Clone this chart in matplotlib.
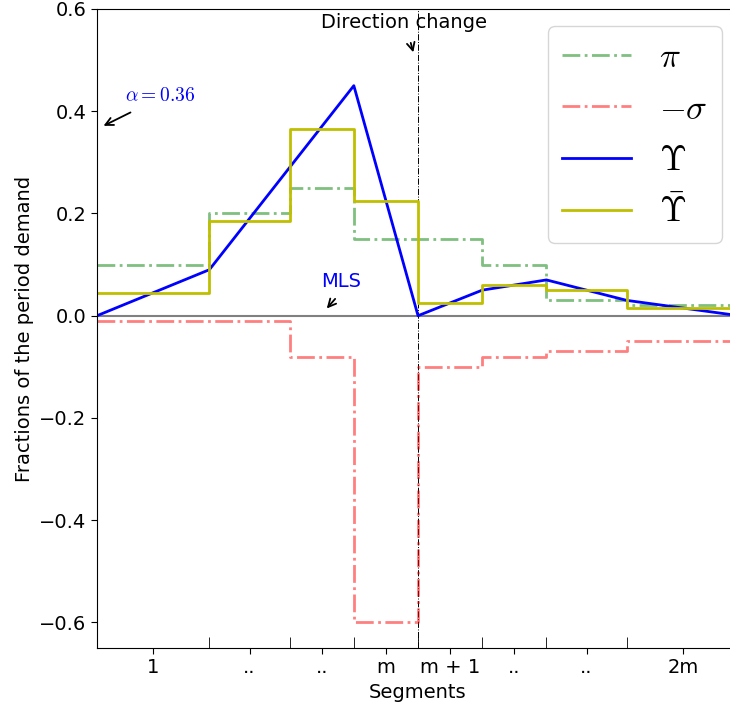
import matplotlib
matplotlib.use("Agg")
import matplotlib.pyplot as plt
import numpy as np

plt.rcParams["mathtext.fontset"] = "cm"
plt.rcParams["font.size"] = 14

# segment boundaries (time units) and per-segment values
edges = [0, 7, 12, 16, 20, 24, 28, 33, 40]
seg_labels = ["1", "..", "..", "m", "m + 1", "..", "..", "2m"]
pi_vals = [0.10, 0.20, 0.25, 0.15, 0.15, 0.10, 0.03, 0.02]
sigma_vals = [-0.01, -0.01, -0.08, -0.60, -0.10, -0.08, -0.07, -0.05]
ups_vals = [0.0, 0.09, 0.29, 0.45, 0.0, 0.05, 0.07, 0.03, 0.0]
ups_bar_vals = [0.045, 0.185, 0.365, 0.225, 0.025, 0.06, 0.05, 0.015]
direction_change = 20


def stepped(vals):
    return np.append(vals, vals[-1])


fig = plt.figure(figsize=(7.30, 7.13), dpi=100)
ax = fig.add_axes([0.1329, 0.0912, 0.8795, 0.8962])

ax.axhline(0, color="gray", lw=1.5, zorder=1)
ax.axvline(direction_change, color="black", ls="-.", lw=0.7, zorder=1)

ax.step(edges, stepped(pi_vals), where="post", color="g", alpha=0.5, ls="-.", lw=2, label=r"$\pi$")
ax.step(edges, stepped(sigma_vals), where="post", color="r", alpha=0.5, ls="-.", lw=2, label=r"$-\sigma$")
ax.plot(edges, ups_vals, color="b", lw=2, label=r"$\Upsilon$")
ax.step(edges, stepped(ups_bar_vals), where="post", color="y", lw=2, label=r"$\bar{\Upsilon}$")

arrow = dict(arrowstyle="->", color="black", lw=1.3)
ax.text(1.74, 0.43, r"$\alpha = 0.36$", color="b", ha="left", va="center", fontsize=14)
ax.annotate("", xy=(0.25, 0.369), xytext=(2.24, 0.40), arrowprops=arrow)
ax.text(15.2, 0.066, "MLS", color="b", ha="center", va="center", fontsize=14)
ax.annotate("", xy=(14.2, 0.01), xytext=(14.95, 0.037), arrowprops=arrow)
ax.text(19.13, 0.573, "Direction change", ha="center", va="center", fontsize=14)
ax.annotate("", xy=(19.75, 0.51), xytext=(19.5, 0.539), arrowprops=arrow)

mids = [(a + b) / 2 for a, b in zip(edges[:-1], edges[1:])]
ax.set_xticks(mids)
ax.set_xticklabels(seg_labels)
ax.set_xticks(edges[1:-1], minor=True)
ax.tick_params(axis="x", which="minor", direction="in", length=8)
ax.tick_params(which="major", length=4)
ax.set_yticks(np.arange(-0.6, 0.61, 0.2))
ax.set_xlim(0, 40)
ax.set_ylim(-0.65, 0.6)
ax.spines["right"].set_visible(False)

ax.set_xlabel("Segments")
ax.set_ylabel("Fractions of the period demand")
ax.legend(loc="upper right", fontsize=25, bbox_to_anchor=(1.0, 1.0))

fig.savefig("out.png", dpi=100)
